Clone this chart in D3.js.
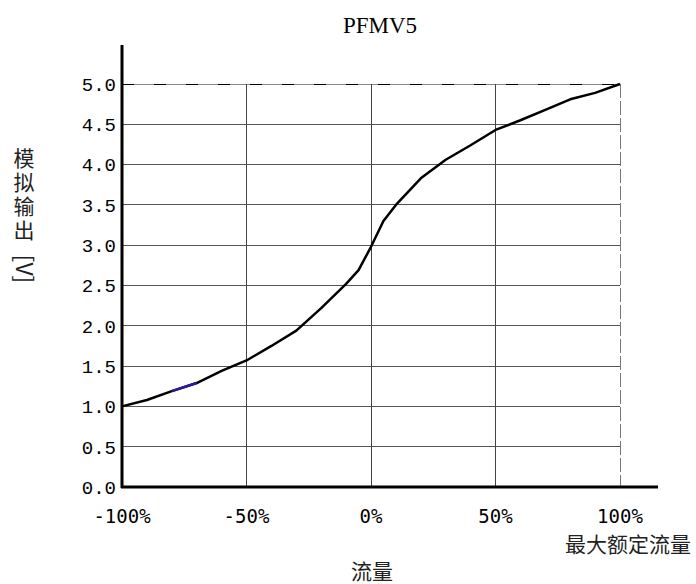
<!DOCTYPE html>
<html>
<head>
<meta charset="utf-8">
<script src="https://cdn.jsdelivr.net/npm/d3@7"></script>
<style>
  body { margin: 0; background: #fff; }
  svg { display: block; }
  .tick-lbl { font-family: "Liberation Mono", "DejaVu Sans Mono", monospace; font-size: 19px; fill: #000; }
  .cjk { font-family: "Noto Sans CJK SC", sans-serif; font-size: 21px; fill: #222; }
</style>
</head>
<body>
<div id="chart"></div>
<script>
// flow in % of max rated flow vs analog output [V]
const flowPct = [-100, -90, -80, -70, -60, -50, -40, -30, -20, -10, -5, 0, 5, 10, 20, 30, 40, 50, 60, 70, 80, 90, 100];
const outputV = [1.0, 1.08, 1.19, 1.29, 1.44, 1.57, 1.75, 1.94, 2.22, 2.52, 2.69, 2.98, 3.30, 3.50, 3.83, 4.06, 4.24, 4.43, 4.55, 4.68, 4.81, 4.89, 5.0];
// the short blue stretch of the curve
const blueFrom = -80, blueTo = -70;

const xTicks = [-100, -50, 0, 50, 100];
const xTickLabels = ["-100%", "-50%", "0%", "50%", "100%"];
const yTicks = [0, 0.5, 1, 1.5, 2, 2.5, 3, 3.5, 4, 4.5, 5];

const width = 696, height = 584;

const x = d3.scaleLinear().domain([-100, 100]).range([122, 620]);
const y = d3.scaleLinear().domain([0, 5]).range([487, 84]);

const svg = d3.select("#chart").append("svg")
    .attr("width", width)
    .attr("height", height);

// horizontal grid (top one dashed)
svg.selectAll(".hgrid")
    .data(yTicks.filter(d => d > 0 && d < 5))
    .enter().append("line")
    .attr("x1", x(-100)).attr("x2", x(100))
    .attr("y1", d => y(d)).attr("y2", d => y(d))
    .attr("stroke", "#555").attr("stroke-width", 1)
    .attr("shape-rendering", "crispEdges");

svg.append("line")
    .attr("x1", x(-100)).attr("x2", x(100))
    .attr("y1", y(5)).attr("y2", y(5))
    .attr("stroke", "#888").attr("stroke-width", 1)
    .attr("shape-rendering", "crispEdges");
svg.append("line")
    .attr("x1", x(-100)).attr("x2", x(100))
    .attr("y1", y(5)).attr("y2", y(5))
    .attr("stroke", "#000").attr("stroke-width", 1)
    .attr("stroke-dasharray", "12,20")
    .attr("shape-rendering", "crispEdges");

// vertical grid
svg.selectAll(".vgrid")
    .data(xTicks.filter(d => d > -100 && d < 100))
    .enter().append("line")
    .attr("x1", d => x(d)).attr("x2", d => x(d))
    .attr("y1", y(5)).attr("y2", y(0))
    .attr("stroke", "#444").attr("stroke-width", 1)
    .attr("shape-rendering", "crispEdges");

// right border, dashed gray
svg.append("line")
    .attr("x1", x(100)).attr("x2", x(100))
    .attr("y1", y(5)).attr("y2", y(0))
    .attr("stroke", "#777").attr("stroke-width", 1)
    .attr("stroke-dasharray", "14,3")
    .attr("shape-rendering", "crispEdges");

// axes
svg.append("line")
    .attr("x1", x(-100)).attr("x2", x(-100))
    .attr("y1", 45).attr("y2", y(0) + 1)
    .attr("stroke", "#000").attr("stroke-width", 3);
svg.append("line")
    .attr("x1", x(-100) - 1).attr("x2", 658)
    .attr("y1", y(0)).attr("y2", y(0))
    .attr("stroke", "#000").attr("stroke-width", 3);

// tick labels
svg.selectAll(".ylbl")
    .data(yTicks)
    .enter().append("text")
    .attr("class", "tick-lbl")
    .attr("x", 116)
    .attr("y", d => y(d))
    .attr("dy", "0.36em")
    .attr("text-anchor", "end")
    .text(d => d.toFixed(1));

svg.selectAll(".xlbl")
    .data(xTicks)
    .enter().append("text")
    .attr("class", "tick-lbl")
    .attr("x", d => x(d))
    .attr("y", 523)
    .attr("text-anchor", "middle")
    .style("font-family", "'DejaVu Sans Mono', monospace")
    .style("font-size", "19px")
    .text((d, i) => xTickLabels[i]);

// curve
const line = d3.line()
    .x(d => x(d[0]))
    .y(d => y(d[1]));

const pts = flowPct.map((f, i) => [f, outputV[i]]);

svg.append("path")
    .datum(pts)
    .attr("fill", "none")
    .attr("stroke", "#000")
    .attr("stroke-width", 2.5)
    .attr("stroke-linejoin", "round")
    .attr("d", line);

svg.append("path")
    .datum(pts.filter(d => d[0] >= blueFrom && d[0] <= blueTo))
    .attr("fill", "none")
    .attr("stroke", "#2a1a9c")
    .attr("stroke-width", 2.5)
    .attr("d", line);

// titles
svg.append("text")
    .attr("x", 380).attr("y", 33)
    .attr("text-anchor", "middle")
    .style("font-family", "'Liberation Serif', serif")
    .style("font-size", "23px")
    .text("PFMV5");

svg.append("text")
    .attr("class", "cjk")
    .attr("x", 691).attr("y", 552)
    .attr("text-anchor", "end")
    .text("最大额定流量");

svg.append("text")
    .attr("class", "cjk")
    .attr("x", 372).attr("y", 579)
    .attr("text-anchor", "middle")
    .text("流量");

// vertical y title: CJK upright in vertical writing, "[V]" turned clockwise
svg.append("text")
    .attr("class", "cjk")
    .attr("x", 24).attr("y", 148)
    .style("writing-mode", "vertical-rl")
    .style("letter-spacing", "3px")
    .text("模拟输出");

svg.append("text")
    .attr("class", "cjk")
    .attr("transform", "translate(24,269) rotate(90)")
    .attr("dy", "0.36em")
    .attr("text-anchor", "middle")
    .style("font-size", "23px")
    .text("[V]");
</script>
</body>
</html>
